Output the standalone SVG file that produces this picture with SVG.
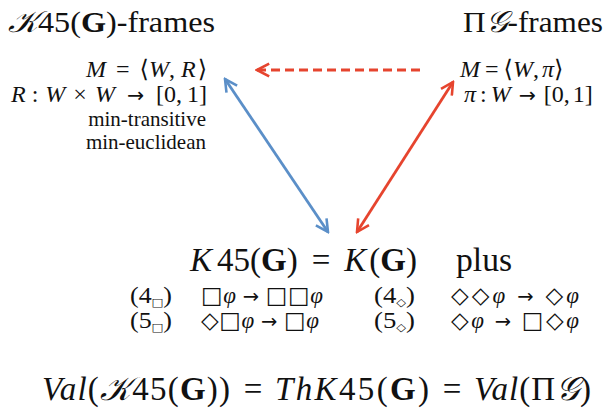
<svg xmlns="http://www.w3.org/2000/svg" width="612" height="419" viewBox="0 0 612 419">
<style>
text{font-family:"Liberation Serif","DejaVu Serif",serif;fill:#111}
.i{font-style:italic}
.b{font-weight:bold}
.sym{font-family:"DejaVu Sans",sans-serif;font-style:normal}
.ar{font-family:"DejaVu Sans",sans-serif;font-style:normal;font-size:0.85em}
.t{font-size:30px}
.m{font-size:24px}
.s{font-size:21px}
.big{font-size:33px}
.bot{font-size:33px}
.ax{font-size:23px}
.sub{font-size:11px}
.blue{stroke:#5b8fc8;stroke-width:2.8;fill:none}
.red{stroke:#e6442e;stroke-width:2.8;fill:none}
</style>
<defs>
<marker id="ab" viewBox="0 0 12 12" refX="10.5" refY="6" markerWidth="5.5" markerHeight="5.5" orient="auto-start-reverse" markerUnits="strokeWidth"><path d="M1,1 L10.5,6 L1,11" fill="none" stroke="#5b8fc8" stroke-width="2"/></marker>
<marker id="ar" viewBox="0 0 12 12" refX="10.5" refY="6" markerWidth="5.5" markerHeight="5.5" orient="auto-start-reverse" markerUnits="strokeWidth"><path d="M1,1 L10.5,6 L1,11" fill="none" stroke="#e6442e" stroke-width="2"/></marker>
</defs>
<g id="k45frames">
<text class="t" x="8" y="32" textLength="207" lengthAdjust="spacingAndGlyphs"><tspan class="i">𝒦</tspan>45(<tspan class="b">G</tspan>)-frames</text>
<text class="m" x="207" y="77" text-anchor="end"><tspan class="i">M</tspan><tspan dx="10">=</tspan><tspan dx="10">⟨</tspan><tspan class="i">W</tspan>,<tspan class="i" dx="6">R</tspan><tspan dx="2">⟩</tspan></text>
<text class="m" x="207" y="102" text-anchor="end"><tspan class="i">R</tspan><tspan dx="6">:</tspan><tspan class="i" dx="7">W</tspan><tspan dx="8">×</tspan><tspan class="i" dx="8">W</tspan><tspan class="ar" dx="12">→</tspan><tspan dx="12">[0,</tspan><tspan dx="5">1]</tspan></text>
<text class="s" x="206" y="126" text-anchor="end">min-transitive</text>
<text class="s" x="206" y="149" text-anchor="end">min-euclidean</text>
</g>
<g id="pigframes">
<text class="t" x="463" y="32" textLength="140" lengthAdjust="spacingAndGlyphs">Π<tspan class="i">𝒢</tspan>-frames</text>
<text class="m" x="460" y="77"><tspan class="i">M</tspan><tspan dx="5">=</tspan><tspan dx="5">⟨</tspan><tspan class="i">W</tspan>,<tspan class="i" dx="3">π</tspan>⟩</text>
<text class="m" x="464" y="102"><tspan class="i">π</tspan><tspan dx="4">:</tspan><tspan class="i" dx="4">W</tspan><tspan class="ar" dx="8">→</tspan><tspan dx="8">[0,</tspan><tspan dx="3">1]</tspan></text>
</g>
<g id="k45g">
<text class="big" x="190" y="271"><tspan class="i">K</tspan><tspan dx="5">45(</tspan><tspan class="b">G</tspan>)<tspan dx="14">=</tspan><tspan class="i" dx="14">K</tspan><tspan dx="3">(</tspan><tspan class="b">G</tspan>)</text>
<text class="big" x="456" y="271" textLength="56" lengthAdjust="spacingAndGlyphs">plus</text>
</g>
<g id="axioms">
<text class="ax" x="130" y="303" textLength="42" lengthAdjust="spacingAndGlyphs">(4<tspan class="sym sub" dy="3">□</tspan><tspan dy="-3">)</tspan></text>
<text class="ax" x="201" y="303" textLength="122" lengthAdjust="spacing"><tspan class="sym">□</tspan><tspan class="i">φ</tspan> <tspan class="ar">→</tspan> <tspan class="sym">□□</tspan><tspan class="i">φ</tspan></text>
<text class="ax" x="130" y="328" textLength="42" lengthAdjust="spacingAndGlyphs">(5<tspan class="sym sub" dy="3">□</tspan><tspan dy="-3">)</tspan></text>
<text class="ax" x="201" y="328" textLength="118" lengthAdjust="spacing"><tspan class="sym">◇□</tspan><tspan class="i">φ</tspan> <tspan class="ar">→</tspan> <tspan class="sym">□</tspan><tspan class="i">φ</tspan></text>
<text class="ax" x="374" y="303" textLength="41" lengthAdjust="spacingAndGlyphs">(4<tspan class="sym sub" dy="3">◇</tspan><tspan dy="-3">)</tspan></text>
<text class="ax" x="451" y="303" textLength="128" lengthAdjust="spacing"><tspan class="sym">◇◇</tspan><tspan class="i">φ</tspan> <tspan class="ar">→</tspan> <tspan class="sym">◇</tspan><tspan class="i">φ</tspan></text>
<text class="ax" x="374" y="328" textLength="41" lengthAdjust="spacingAndGlyphs">(5<tspan class="sym sub" dy="3">◇</tspan><tspan dy="-3">)</tspan></text>
<text class="ax" x="451" y="328" textLength="128" lengthAdjust="spacing"><tspan class="sym">◇</tspan><tspan class="i">φ</tspan> <tspan class="ar">→</tspan> <tspan class="sym">□◇</tspan><tspan class="i">φ</tspan></text>
</g>
<g id="val">
<text class="bot" x="42" y="400" textLength="188" lengthAdjust="spacing"><tspan class="i">Val</tspan>(<tspan class="i">𝒦</tspan>45(<tspan class="b">G</tspan>))</text>
<text class="bot" x="253" y="400" text-anchor="middle">=</text>
<text class="bot" x="275" y="400" textLength="154" lengthAdjust="spacing"><tspan class="i">ThK</tspan>45(<tspan class="b">G</tspan>)</text>
<text class="bot" x="452" y="400" text-anchor="middle">=</text>
<text class="bot" x="474" y="400" textLength="117" lengthAdjust="spacing"><tspan class="i">Val</tspan>(Π<tspan class="i">𝒢</tspan>)</text>
</g>
<g id="connectors">
<line class="red" x1="420" y1="70" x2="257" y2="70" stroke-dasharray="9,5" marker-end="url(#ar)"/>
<line class="blue" x1="225" y1="79" x2="328" y2="232" marker-start="url(#ab)" marker-end="url(#ab)"/>
<line class="red" x1="453" y1="82" x2="357" y2="232" marker-start="url(#ar)" marker-end="url(#ar)"/>
</g>
</svg>
